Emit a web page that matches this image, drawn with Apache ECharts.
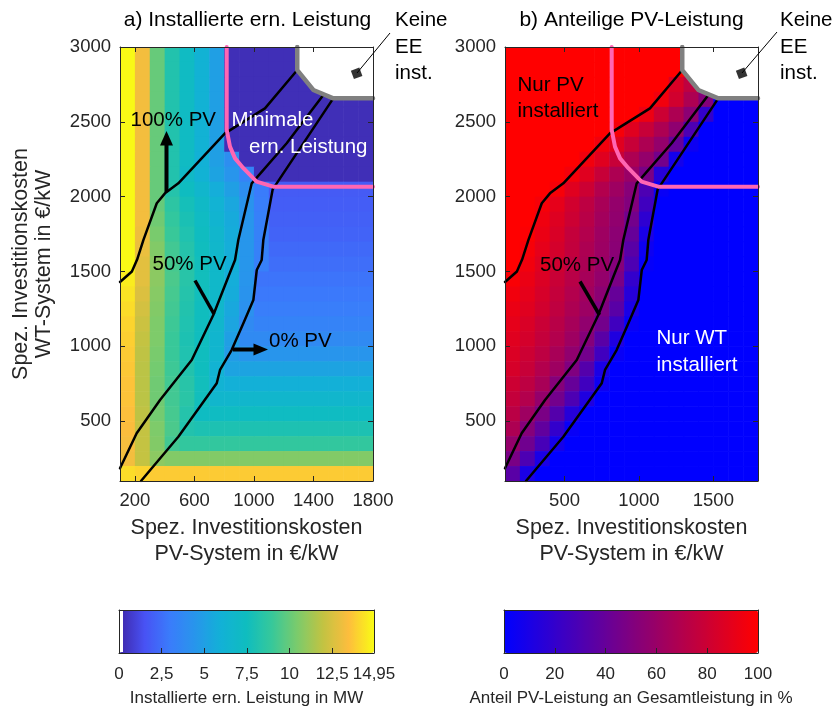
<!DOCTYPE html>
<html>
<head>
<meta charset="utf-8">
<script src="https://cdn.jsdelivr.net/npm/echarts@6/dist/echarts.min.js"></script>
<style>
  html, body { margin: 0; padding: 0; background: #fff; }
  #chart { width: 835px; height: 713px; }
</style>
</head>
<body>
<div id="chart"></div>
<script>
// cell edges (EUR/kW): PV cost = left edge of a column, WT cost = bottom edge of a row (top row first)
const pvCost = [100, 200, 300, 400, 500, 600, 700, 800, 900, 1000, 1100, 1200, 1300, 1400, 1500, 1600, 1700];
const wtCost = [2900, 2800, 2700, 2600, 2500, 2400, 2300, 2200, 2100, 2000, 1900, 1800, 1700, 1600, 1500,
                1400, 1300, 1200, 1100, 1000, 900, 800, 700, 600, 500, 400, 300, 200, 100];

// a) installed renewable capacity in MW
const capacity = [
  [14.9, 13.2, 10.0, 8.2, 7.2, 6.1, 5.0, 0.3, 0.3, 0.3, 0.3, 0.3, 0.3, 0.3, 0.3, 0.3, 0.3],
  [14.9, 13.2, 10.0, 8.2, 7.2, 6.1, 5.0, 0.3, 0.3, 0.3, 0.3, 0.3, 0.3, 0.3, 0.3, 0.3, 0.3],
  [14.9, 13.2, 10.0, 8.2, 7.2, 6.1, 5.0, 0.3, 0.3, 0.3, 0.3, 0.3, 0.3, 0.3, 0.3, 0.3, 0.3],
  [14.9, 13.2, 10.0, 8.2, 7.2, 6.1, 5.0, 0.3, 0.3, 0.3, 0.3, 0.3, 0.3, 0.3, 0.3, 0.3, 0.3],
  [14.9, 13.2, 10.0, 8.2, 7.2, 6.1, 5.0, 0.3, 0.3, 0.3, 0.3, 0.3, 0.3, 0.3, 0.3, 0.3, 0.3],
  [14.9, 13.2, 10.0, 8.2, 7.2, 6.1, 5.0, 0.3, 0.3, 0.3, 0.3, 0.3, 0.3, 0.3, 0.3, 0.3, 0.3],
  [14.9, 13.2, 10.0, 8.2, 7.2, 6.1, 5.0, 0.3, 0.3, 0.3, 0.3, 0.3, 0.3, 0.3, 0.3, 0.3, 0.3],
  [14.9, 13.2, 10.0, 8.2, 7.2, 6.0, 5.0, 4.0, 0.3, 0.3, 0.3, 0.3, 0.3, 0.3, 0.3, 0.3, 0.3],
  [14.9, 13.2, 10.0, 8.2, 7.0, 6.1, 5.2, 4.4, 3.4, 0.3, 0.3, 0.3, 0.3, 0.3, 0.3, 0.3, 0.3],
  [14.9, 13.2, 10.0, 8.3, 7.4, 6.6, 5.8, 5.0, 4.0, 3.0, 1.8, 1.8, 1.8, 1.8, 1.8, 1.8, 1.8],
  [14.9, 13.2, 10.0, 8.6, 7.7, 7.0, 6.2, 5.4, 4.3, 3.1, 1.9, 1.9, 1.9, 1.9, 1.9, 1.9, 1.9],
  [14.9, 13.2, 10.2, 8.8, 7.9, 7.2, 6.4, 5.6, 4.4, 3.2, 2.0, 2.0, 2.0, 2.0, 2.0, 2.0, 2.0],
  [14.9, 13.1, 10.4, 9.0, 8.1, 7.4, 6.6, 5.7, 4.5, 3.3, 2.1, 2.1, 2.1, 2.1, 2.1, 2.1, 2.1],
  [14.9, 13.0, 10.6, 9.2, 8.3, 7.5, 6.7, 5.8, 4.5, 3.3, 2.3, 2.3, 2.3, 2.3, 2.3, 2.3, 2.3],
  [14.9, 12.8, 10.8, 9.3, 8.4, 7.6, 6.8, 5.9, 4.5, 3.2, 2.5, 2.5, 2.5, 2.5, 2.5, 2.5, 2.5],
  [14.6, 12.8, 10.8, 9.4, 8.4, 7.6, 6.8, 5.8, 4.4, 2.7, 2.7, 2.7, 2.7, 2.7, 2.7, 2.7, 2.7],
  [14.4, 12.6, 10.7, 9.3, 8.3, 7.6, 6.8, 5.7, 4.3, 2.9, 2.9, 2.9, 2.9, 2.9, 2.9, 2.9, 2.9],
  [14.2, 12.4, 10.6, 9.2, 8.2, 7.5, 6.7, 5.5, 4.2, 3.1, 3.1, 3.1, 3.1, 3.1, 3.1, 3.1, 3.1],
  [14.0, 12.2, 10.5, 9.1, 8.1, 7.5, 6.6, 5.3, 3.8, 3.4, 3.4, 3.4, 3.4, 3.4, 3.4, 3.4, 3.4],
  [13.9, 12.0, 10.5, 9.0, 8.0, 7.5, 6.5, 5.0, 3.8, 3.8, 3.8, 3.8, 3.8, 3.8, 3.8, 3.8, 3.8],
  [13.8, 11.9, 10.4, 9.0, 8.1, 7.5, 6.5, 4.8, 4.4, 4.4, 4.4, 4.4, 4.4, 4.4, 4.4, 4.4, 4.4],
  [13.7, 11.8, 10.3, 9.1, 8.2, 7.5, 6.2, 5.2, 5.2, 5.2, 5.2, 5.2, 5.2, 5.2, 5.2, 5.2, 5.2],
  [13.6, 11.8, 10.2, 9.2, 8.4, 7.6, 6.2, 5.9, 5.9, 5.9, 5.9, 5.9, 5.9, 5.9, 5.9, 5.9, 5.9],
  [13.6, 11.8, 10.2, 9.2, 8.5, 7.6, 6.6, 6.6, 6.6, 6.6, 6.6, 6.6, 6.6, 6.6, 6.6, 6.6, 6.6],
  [13.5, 11.9, 10.3, 9.3, 8.3, 7.3, 7.3, 7.3, 7.3, 7.3, 7.3, 7.3, 7.3, 7.3, 7.3, 7.3, 7.3],
  [13.4, 12.0, 10.5, 9.4, 8.2, 8.0, 8.0, 8.0, 8.0, 8.0, 8.0, 8.0, 8.0, 8.0, 8.0, 8.0, 8.0],
  [13.3, 12.0, 10.6, 9.2, 8.8, 8.8, 8.8, 8.8, 8.8, 8.8, 8.8, 8.8, 8.8, 8.8, 8.8, 8.8, 8.8],
  [13.2, 12.0, 10.8, 10.6, 10.6, 10.6, 10.6, 10.6, 10.6, 10.6, 10.6, 10.6, 10.6, 10.6, 10.6, 10.6, 10.6],
  [14.2, 14.0, 13.8, 13.8, 13.8, 13.8, 13.8, 13.8, 13.8, 13.8, 13.8, 13.8, 13.8, 13.8, 13.8, 13.8, 13.8]
];

// b) PV share of the total installed capacity in %
const pvShare = [
  [100, 100, 100, 100, 100, 100, 100, 100, 100, 100, 100, 100, 100, 100, 100, 100, 100],
  [100, 100, 100, 100, 100, 100, 100, 100, 100, 100, 100, 100, 90, 100, 100, 100, 100],
  [100, 100, 100, 100, 100, 100, 100, 100, 100, 100, 100, 85, 75, 60, 60, 60, 60],
  [100, 100, 100, 100, 100, 100, 100, 100, 100, 100, 95, 82, 68, 52, 0, 0, 0],
  [100, 100, 100, 100, 100, 100, 100, 100, 100, 93, 80, 68, 55, 20, 0, 0, 0],
  [100, 100, 100, 100, 100, 100, 100, 97, 88, 78, 68, 56, 30, 0, 0, 0, 0],
  [100, 100, 100, 100, 100, 100, 95, 88, 78, 68, 58, 40, 5, 0, 0, 0, 0],
  [100, 100, 100, 100, 100, 95, 88, 78, 68, 58, 45, 8, 0, 0, 0, 0, 0],
  [100, 100, 100, 100, 96, 88, 78, 68, 60, 48, 15, 0, 0, 0, 0, 0, 0],
  [100, 100, 100, 97, 88, 80, 70, 62, 53, 30, 3, 0, 0, 0, 0, 0, 0],
  [100, 100, 97, 90, 82, 74, 66, 58, 51, 25, 0, 0, 0, 0, 0, 0, 0],
  [100, 100, 94, 87, 80, 72, 64, 57, 45, 18, 0, 0, 0, 0, 0, 0, 0],
  [100, 99, 92, 85, 77, 70, 62, 55, 40, 10, 0, 0, 0, 0, 0, 0, 0],
  [100, 97, 90, 83, 76, 68, 61, 54, 35, 5, 0, 0, 0, 0, 0, 0, 0],
  [100, 95, 88, 81, 74, 67, 60, 52, 30, 2, 0, 0, 0, 0, 0, 0, 0],
  [98, 92, 86, 79, 72, 65, 58, 48, 20, 0, 0, 0, 0, 0, 0, 0, 0],
  [95, 90, 84, 77, 70, 63, 55, 40, 15, 0, 0, 0, 0, 0, 0, 0, 0],
  [92, 88, 82, 75, 68, 61, 50, 35, 10, 0, 0, 0, 0, 0, 0, 0, 0],
  [90, 85, 79, 72, 65, 57, 45, 25, 3, 0, 0, 0, 0, 0, 0, 0, 0],
  [88, 83, 77, 70, 62, 52, 35, 12, 0, 0, 0, 0, 0, 0, 0, 0, 0],
  [86, 80, 74, 66, 57, 45, 25, 3, 0, 0, 0, 0, 0, 0, 0, 0, 0],
  [84, 78, 70, 62, 50, 33, 10, 0, 0, 0, 0, 0, 0, 0, 0, 0, 0],
  [80, 74, 66, 52, 40, 25, 5, 0, 0, 0, 0, 0, 0, 0, 0, 0, 0],
  [77, 70, 58, 45, 30, 12, 0, 0, 0, 0, 0, 0, 0, 0, 0, 0, 0],
  [73, 62, 48, 33, 15, 0, 0, 0, 0, 0, 0, 0, 0, 0, 0, 0, 0],
  [68, 52, 38, 20, 3, 0, 0, 0, 0, 0, 0, 0, 0, 0, 0, 0, 0],
  [58, 44, 28, 8, 0, 0, 0, 0, 0, 0, 0, 0, 0, 0, 0, 0, 0],
  [48, 30, 10, 0, 0, 0, 0, 0, 0, 0, 0, 0, 0, 0, 0, 0, 0],
  [35, 10, 0, 0, 0, 0, 0, 0, 0, 0, 0, 0, 0, 0, 0, 0, 0]
];

// contour lines [PV cost, WT cost]
const line100 = [[100, 1430], [180, 1500], [215, 1580], [257, 1710], [347, 1956], [402, 2022], [492, 2089],
                 [805, 2423], [1074, 2590], [1276, 2828], [1291, 2846]];
const line50 = [[100, 185], [212, 419], [369, 641], [582, 909], [727, 1209], [828, 1465], [873, 1577],
                [895, 1710], [985, 2089], [1220, 2357], [1470, 2684]];
const line0 = [[241, 100], [492, 396], [750, 753], [772, 842], [850, 975], [929, 1154], [996, 1309],
               [1019, 1510], [1052, 1577], [1063, 1710], [1126, 2049], [1533, 2657]];
const minCapBorder = [[817, 3000], [817, 2446], [839, 2334], [873, 2256], [929, 2190], [1018, 2100],
                      [1130, 2067], [1800, 2067]];
const noEEBorder = [[1291, 3000], [1291, 2846], [1399, 2713], [1533, 2657], [1800, 2657]];
const noEEArea = [[1291, 3000], [1291, 2846], [1399, 2713], [1533, 2657], [1800, 2657], [1800, 3000]];
const noEEMarker = [[1690, 2824]];

const pvTicksA = [200, 600, 1000, 1400, 1800];
const pvTicksB = [500, 1000, 1500];
const wtTicks = [500, 1000, 1500, 2000, 2500, 3000];
const capTicks = [0, 2.5, 5, 7.5, 10, 12.5, 14.95];
const shareTicks = [0, 20, 40, 60, 80, 100];

const parula = ['#3e26a8', '#4852f4', '#3a7cfb', '#2796eb', '#12b1d6', '#0fbdbf',
                '#37c89a', '#7ccb6b', '#c2c342', '#fdbd3d', '#f9fb15'];

const FONT = 'Liberation Sans, Arial, Helvetica, sans-serif';
const AX = '#262626';
const plain = v => String(v);

function toCells(rows) {
  const out = [];
  rows.forEach((row, r) => row.forEach((v, c) => out.push([pvCost[c], wtCost[r], v])));
  return out;
}

function renderCell(params, api) {
  const a = api.coord([api.value(0), api.value(1) + 100]);
  const b = api.coord([api.value(0) + 100, api.value(1)]);
  return {
    type: 'rect',
    shape: { x: a[0], y: a[1], width: b[0] - a[0] + 0.6, height: b[1] - a[1] + 0.6 },
    style: { fill: api.visual('color') }
  };
}

function xAxes(grid, ticks, min, max, name, labelOpts) {
  return [{
    type: 'value', gridIndex: grid, position: 'bottom', min, max, z: 10,
    axisLine: { onZero: false, lineStyle: { color: AX, width: 1 } },
    axisTick: { inside: true, length: 5, customValues: ticks, lineStyle: { color: AX } },
    axisLabel: Object.assign({ customValues: ticks, margin: 10, fontSize: 18.5, color: AX, fontFamily: FONT,
                               formatter: plain }, labelOpts),
    splitLine: { show: false },
    name, nameLocation: 'middle', nameGap: 34,
    nameTextStyle: { fontSize: 21.5, lineHeight: 26, color: AX, fontFamily: FONT }
  }, {
    type: 'value', gridIndex: grid, position: 'top', min, max, z: 10,
    axisLine: { onZero: false, lineStyle: { color: AX, width: 1 } },
    axisTick: { show: ticks !== null, inside: true, length: 5, customValues: ticks || [], lineStyle: { color: AX } },
    axisLabel: { show: false }, splitLine: { show: false }
  }];
}

function yAxes(grid, ticks, min, max, name) {
  return [{
    type: 'value', gridIndex: grid, position: 'left', min, max, z: 10,
    axisLine: { show: true, onZero: false, lineStyle: { color: AX, width: 1 } },
    axisTick: { show: ticks !== null, inside: true, length: 5, customValues: ticks || [], lineStyle: { color: AX } },
    axisLabel: { show: ticks !== null, customValues: ticks || [], margin: 9, fontSize: 18.5, color: AX,
                 fontFamily: FONT, formatter: plain },
    splitLine: { show: false },
    name, nameLocation: 'middle', nameGap: 64, nameRotate: 90,
    nameTextStyle: { fontSize: 21.5, lineHeight: 23, color: AX, fontFamily: FONT }
  }, {
    type: 'value', gridIndex: grid, position: 'right', min, max, z: 10,
    axisLine: { show: true, onZero: false, lineStyle: { color: AX, width: 1 } },
    axisTick: { show: ticks !== null, inside: true, length: 5, customValues: ticks || [], lineStyle: { color: AX } },
    axisLabel: { show: false }, splitLine: { show: false }
  }];
}

function lineSeries(points, ax, color, width, z) {
  return {
    type: 'line', xAxisIndex: ax, yAxisIndex: ax, data: points, symbol: 'none', silent: true, z,
    lineStyle: { color, width, cap: 'round', join: 'round' }
  };
}

const series = [
  { type: 'custom', xAxisIndex: 0, yAxisIndex: 0, data: toCells(capacity), renderItem: renderCell,
    encode: { x: 0, y: 1 }, clip: true, silent: true, z: 1 },
  { type: 'custom', xAxisIndex: 2, yAxisIndex: 2, data: toCells(pvShare), renderItem: renderCell,
    encode: { x: 0, y: 1 }, clip: true, silent: true, z: 1 }
];
[0, 2].forEach(ax => {
  series.push({
    type: 'custom', xAxisIndex: ax, yAxisIndex: ax, data: [[1600, 2850]], silent: true, z: 2,
    renderItem: (p, api) => ({ type: 'polygon', shape: { points: noEEArea.map(pt => api.coord(pt)) }, style: { fill: '#fff' } })
  });
  series.push(lineSeries(line100, ax, '#000', 2.5, 3));
  series.push(lineSeries(line50, ax, '#000', 2.5, 3));
  series.push(lineSeries(line0, ax, '#000', 2.5, 3));
  series.push(lineSeries(minCapBorder, ax, '#ff66b3', 4, 4));
  series.push(lineSeries(noEEBorder, ax, '#808080', 4.5, 5));
  series.push({
    type: 'scatter', xAxisIndex: ax, yAxisIndex: ax, data: noEEMarker, symbol: 'rect', symbolSize: 9,
    symbolRotate: 20, itemStyle: { color: '#000' }, silent: true, z: 6
  });
});

function T(x, y, text, o) {
  return { type: 'text', x, y, z: 100, silent: true,
    style: Object.assign({ text, fill: '#000', fontSize: 20.5, fontFamily: FONT, align: 'left', verticalAlign: 'middle' }, o || {}) };
}
function L(points, w) {
  return { type: 'polyline', z: 100, silent: true, shape: { points }, style: { stroke: '#000', lineWidth: w, fill: null } };
}
function P(points) {
  return { type: 'polygon', z: 100, silent: true, shape: { points }, style: { fill: '#000' } };
}

const graphic = [
  T(247.5, 20, 'a) Installierte ern. Leistung', { align: 'center', fontSize: 21 }),
  T(631.5, 20, 'b) Anteilige PV-Leistung', { align: 'center', fontSize: 21 }),
  T(395, 47, 'Keine\nEE\ninst.', { lineHeight: 26.5 }),
  T(780, 47, 'Keine\nEE\ninst.', { lineHeight: 26.5 }),
  T(130.5, 120, '100% PV'),
  T(231.5, 120, 'Minimale', { fill: '#fff' }),
  T(249, 147, 'ern. Leistung', { fill: '#fff' }),
  T(152.5, 264.5, '50% PV'),
  T(269, 341, '0% PV'),
  T(517.5, 98.5, 'Nur PV\ninstalliert', { lineHeight: 26.5 }),
  T(540, 265, '50% PV'),
  T(656.5, 352, 'Nur WT\ninstalliert', { lineHeight: 26.5, fill: '#fff' }),
  L([[166.5, 192], [166.5, 143]], 4),
  P([[166.5, 131], [160, 145.5], [173, 145.5]]),
  L([[233, 349.5], [256, 349.5]], 4),
  P([[268, 349.5], [253.5, 343.5], [253.5, 355.5]]),
  L([[195, 280.5], [214, 314]], 3.5),
  L([[580, 281.5], [599.5, 315]], 3.5),
  L([[357, 73], [390, 33]], 1),
  L([[742, 73], [777, 32]], 1),
  { type: 'rect', z: 6, silent: true, shape: { x: 120, y: 611, width: 3, height: 41 }, style: { fill: '#fff' } }
];

const pvName = 'Spez. Investitionskosten\nPV-System in €/kW';
const xAxis = [].concat(
  xAxes(0, pvTicksA, 100, 1800, pvName),
  xAxes(1, pvTicksB, 100, 1800, pvName),
  xAxes(2, capTicks, 0, 14.95, 'Installierte ern. Leistung in MW',
        { margin: 13, fontSize: 17, formatter: v => String(v).replace('.', ',') }),
  xAxes(3, shareTicks, 0, 100, 'Anteil PV-Leistung an Gesamtleistung in %', { margin: 13, fontSize: 17 })
);
// colorbar axes: no ticks on top, smaller name
[4, 6].forEach(i => {
  xAxis[i].nameGap = 37;
  xAxis[i].nameTextStyle = { fontSize: 17, color: AX, fontFamily: FONT };
  xAxis[i + 1].axisTick.show = false;
});
const yAxis = [].concat(
  yAxes(0, wtTicks, 100, 3000, 'Spez. Investitionskosten\nWT-System in €/kW'),
  yAxes(1, wtTicks, 100, 3000, ''),
  yAxes(2, null, 0, 1, ''),
  yAxes(3, null, 0, 1, '')
);

const chart = echarts.init(document.getElementById('chart'), null, { renderer: 'canvas' });
chart.setOption({
  animation: false,
  backgroundColor: '#fff',
  grid: [
    { left: 120, top: 47, width: 253, height: 434, outerBoundsMode: 'none' },
    { left: 505, top: 47, width: 253, height: 434, outerBoundsMode: 'none' },
    { left: 119, top: 610, width: 255, height: 43, outerBoundsMode: 'none' },
    { left: 504, top: 610, width: 254, height: 43, outerBoundsMode: 'none' }
  ],
  xAxis,
  yAxis,
  visualMap: [
    { type: 'continuous', seriesIndex: 0, dimension: 2, min: 0, max: 14.95, calculable: false,
      orient: 'horizontal', left: 119, top: 610, itemWidth: 43, itemHeight: 255, padding: 0,
      inRange: { color: parula }, hoverLink: false },
    { type: 'continuous', seriesIndex: 1, dimension: 2, min: 0, max: 100, calculable: false,
      orient: 'horizontal', left: 504, top: 610, itemWidth: 43, itemHeight: 254, padding: 0,
      inRange: { color: ['#0000ff', '#ff0000'] }, hoverLink: false }
  ],
  series,
  graphic
});
</script>
</body>
</html>
